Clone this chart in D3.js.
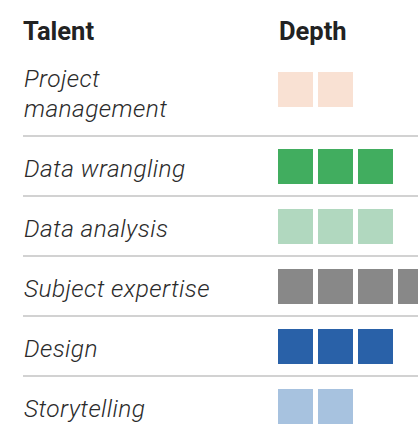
<!DOCTYPE html>
<meta charset="utf-8">
<style>
body { margin: 0; background: #fff; }
svg { display: block; }
.head { font-family: Roboto, sans-serif; font-weight: 700; font-size: 25.5px; fill: #222; }
.label { font-family: Roboto, sans-serif; font-style: italic; font-weight: 300; font-size: 24.5px; letter-spacing: 0.4px; fill: #2b2b2b; }
.divider { stroke: #d2d2d2; stroke-width: 2px; }
</style>
<body>
<div id="chart"></div>
<script src="https://d3js.org/d3.v7.min.js"></script>
<script>

// talents, top to bottom
var talents = ["Project management", "Data wrangling", "Data analysis", "Subject expertise", "Design", "Storytelling"];
// depth = number of squares
var depth = [2, 3, 3, 4, 3, 2];
var colors = ["#f9e1d3", "#41ad5f", "#b1d8bf", "#888888", "#2961a8", "#a7c2df"];
var headers = ["Talent", "Depth"];

var width = 418, height = 424;

var svg = d3.select("#chart").append("svg")
    .attr("width", width)
    .attr("height", height);

// rows: first row is taller (two line label)
var rowTop = d3.scaleLinear().domain([1, 5]).range([136, 376]);
function squareY(i) { return i === 0 ? 72 : rowTop(i) + 13; }

// square index -> x
var sx = d3.scaleLinear().domain([0, 1]).range([278, 318]);
var size = 35;

svg.append("text").attr("class", "head").attr("x", 23).attr("y", 40).text(headers[0]);
svg.append("text").attr("class", "head").attr("x", 279).attr("y", 40).text(headers[1]);

// dividers under each row except last
svg.selectAll("line.divider")
  .data(d3.range(1, talents.length))
  .enter().append("line")
    .attr("class", "divider")
    .attr("x1", 23).attr("x2", width)
    .attr("y1", d => rowTop(d)).attr("y2", d => rowTop(d));

// labels
talents.forEach(function(t, i) {
  var txt = svg.append("text").attr("class", "label").attr("x", 24);
  if (i === 0) {
    var words = t.split(" ");
    txt.append("tspan").attr("x", 24).attr("y", 87).text(words[0]);
    txt.append("tspan").attr("x", 24).attr("y", 117).text(words[1]);
  } else {
    txt.attr("y", squareY(i) + 28).text(t);
  }
});

// squares
var cells = [];
depth.forEach(function(n, i) {
  d3.range(n).forEach(function(k) { cells.push({row: i, k: k}); });
});

svg.selectAll("rect.cell")
  .data(cells)
  .enter().append("rect")
    .attr("class", "cell")
    .attr("x", d => sx(d.k))
    .attr("y", d => squareY(d.row))
    .attr("width", size)
    .attr("height", size)
    .style("fill", d => colors[d.row]);

</script>
</body>
